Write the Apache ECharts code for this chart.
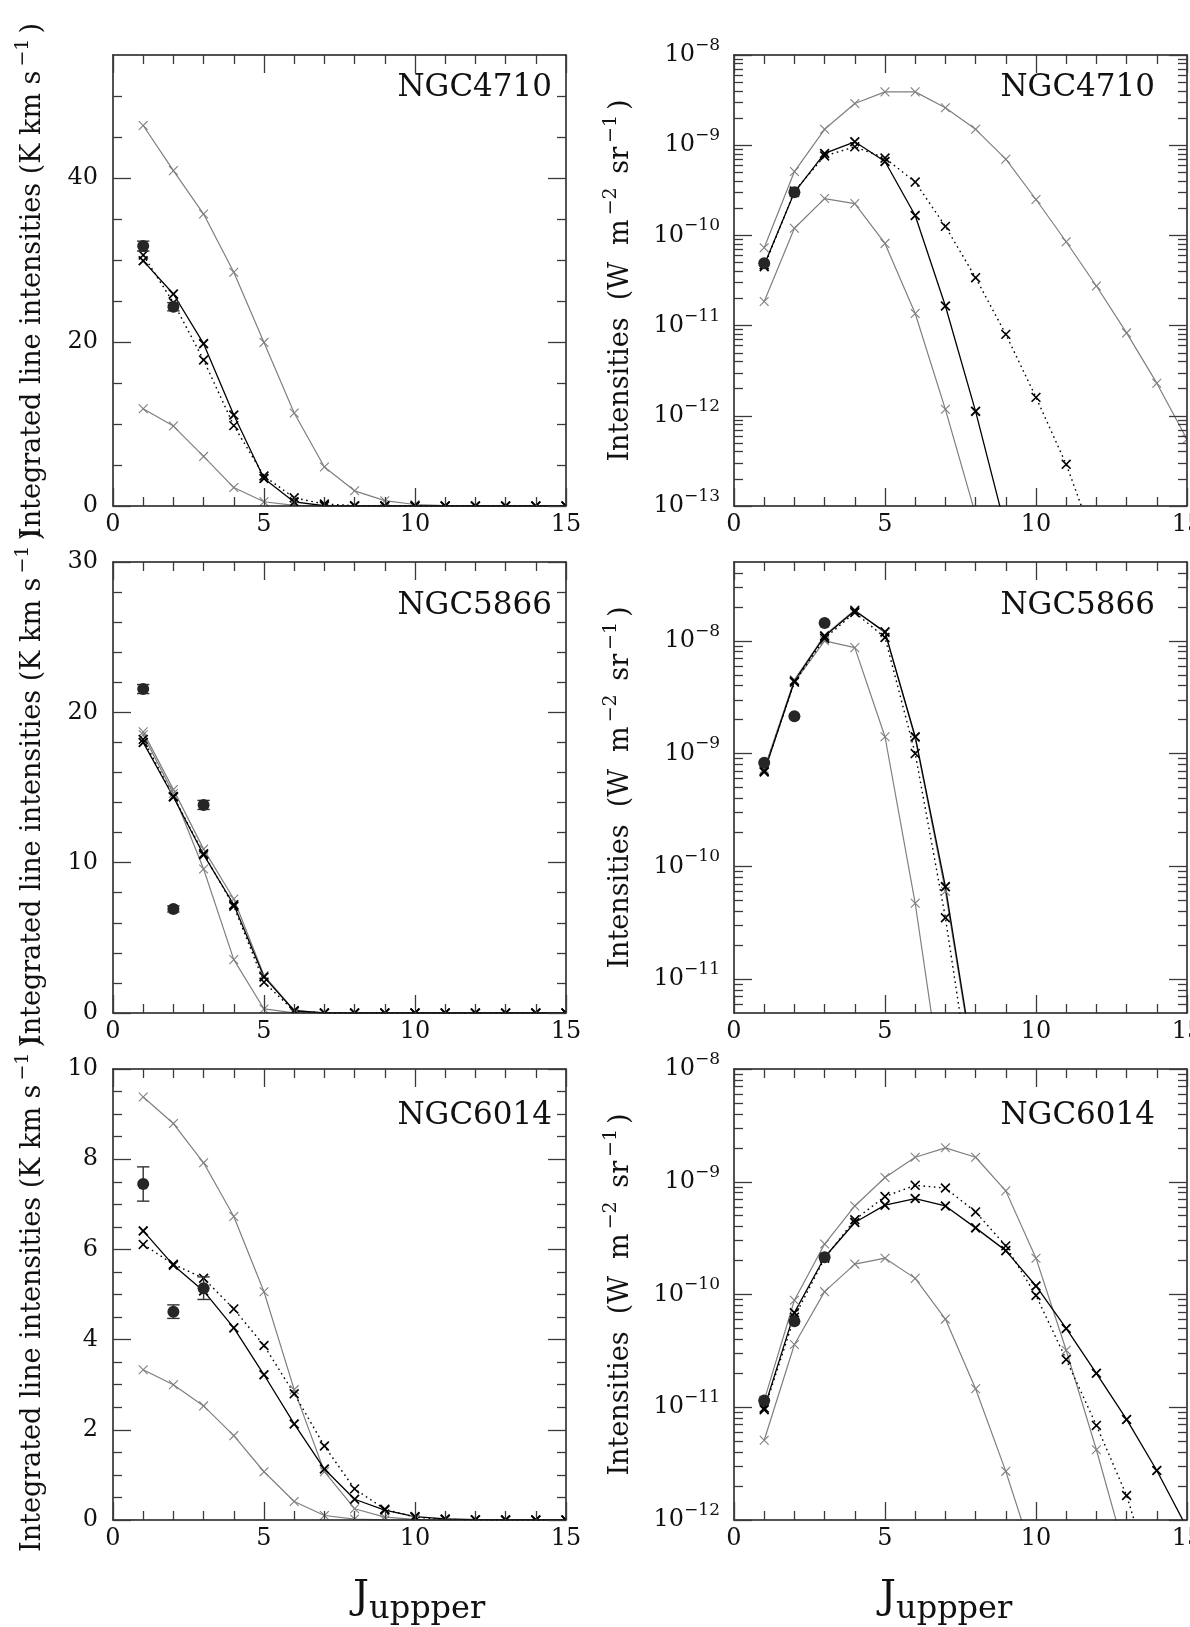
<!DOCTYPE html>
<html>
<head>
<meta charset="utf-8">
<title>CO line SLEDs</title>
<script src="https://cdn.jsdelivr.net/npm/echarts@6.0.0/dist/echarts.min.js"></script>
<style>
html,body{margin:0;padding:0;background:#ffffff;}
#chart{width:1190px;height:1627px;}
</style>
</head>
<body>
<div id="chart"></div>
<script>
// ================= DATA =================
const J = [1,2,3,4,5,6,7,8,9,10,11,12,13,14,15];
const xMajorTicks = [0,5,10,15];
const xMinorTicks = [1,2,3,4,6,7,8,9,11,12,13,14];
const xTickLabels = [0,5,10,15];

// ---- NGC4710, integrated line intensities (K km s-1)
const ngc4710K_obsJ   = [1,2];
const ngc4710K_obs    = [31.7, 24.3];
const ngc4710K_obsErr = [0.6, 0.5];
const ngc4710K_greyHi = [46.4, 40.9, 35.6, 28.5, 19.95, 11.35, 4.75, 1.85, 0.65, 0.18, 0.045, 0.012, 0.003, 0.0007, 0.0001];
const ngc4710K_greyLo = [11.85, 9.75, 6.05, 2.25, 0.52, 0.07, 0.004, 0.0002, 0, 0, 0, 0, 0, 0, 0];
const ngc4710K_solid  = [29.9, 25.85, 19.8, 11.1, 3.35, 0.5, 0.03, 0.001, 0, 0, 0, 0, 0, 0, 0];
const ngc4710K_dotted = [30.6, 24.8, 17.8, 9.8, 3.66, 1.0, 0.24, 0.043, 0.007, 0.0011, 0.0002, 0, 0, 0, 0];
const ngc4710K_yMajor  = [0,20,40];
const ngc4710K_yMinor  = [5,10,15,25,30,35,45,50];
const ngc4710K_yLabels = [0,20,40];

// ---- NGC4710, intensities (W m-2 sr-1)
const ngc4710W_obsJ   = [1,2];
const ngc4710W_obs    = [4.9e-11, 3.0e-10];
const ngc4710W_greyHi = [7.3e-11, 5.1e-10, 1.5e-9, 2.9e-9, 3.9e-9, 3.9e-9, 2.6e-9, 1.5e-9, 7.0e-10, 2.5e-10, 8.5e-11, 2.75e-11, 8.3e-12, 2.3e-12, 5.5e-13];
const ngc4710W_greyLo = [1.85e-11, 1.2e-10, 2.56e-10, 2.25e-10, 8.15e-11, 1.36e-11, 1.18e-12, 8e-14, null, null, null, null, null, null, null];
const ngc4710W_solid  = [4.7e-11, 3.0e-10, 8.1e-10, 1.09e-9, 6.6e-10, 1.66e-10, 1.65e-11, 1.12e-12, 5.5e-14, null, null, null, null, null, null];
const ngc4710W_dotted = [4.5e-11, 3.1e-10, 7.6e-10, 9.6e-10, 7.2e-10, 3.9e-10, 1.26e-10, 3.4e-11, 8.0e-12, 1.6e-12, 2.9e-13, 3.5e-14, null, null, null];
const ngc4710W_decades = [-13,-12,-11,-10,-9,-8];

// ---- NGC5866, integrated line intensities (K km s-1)
const ngc5866K_obsJ   = [1,2,3];
const ngc5866K_obs    = [21.55, 6.92, 13.84];
const ngc5866K_obsErr = [0.3, 0.2, 0.3];
const ngc5866K_greyHi = [18.7, 14.86, 10.9, 7.58, 2.5, 0.17, 0.004, 0, 0, 0, 0, 0, 0, 0, 0];
const ngc5866K_greyLo = [18.5, 14.6, 9.58, 3.55, 0.27, 0.005, 0, 0, 0, 0, 0, 0, 0, 0, 0];
const ngc5866K_solid  = [18.0, 14.37, 10.53, 7.2, 2.4, 0.15, 0.005, 0, 0, 0, 0, 0, 0, 0, 0];
const ngc5866K_dotted = [18.2, 14.4, 10.6, 7.1, 2.05, 0.12, 0.0025, 0, 0, 0, 0, 0, 0, 0, 0];
const ngc5866K_yMajor  = [0,10,20,30];
const ngc5866K_yMinor  = [2,4,6,8,12,14,16,18,22,24,26,28];
const ngc5866K_yLabels = [0,10,20,30];

// ---- NGC5866, intensities (W m-2 sr-1)
const ngc5866W_obsJ   = [1,2,3];
const ngc5866W_obs    = [8.3e-10, 2.14e-9, 1.44e-8];
const ngc5866W_greyHi = [7.3e-10, 4.5e-9, 1.12e-8, 1.88e-8, 1.18e-8, 1.38e-9, 6.0e-11, 1.3e-12, null, null, null, null, null, null, null];
const ngc5866W_greyLo = [7.1e-10, 4.3e-9, 1.0e-8, 8.7e-9, 1.41e-9, 4.7e-11, 7e-13, null, null, null, null, null, null, null, null];
const ngc5866W_solid  = [6.85e-10, 4.4e-9, 1.1e-8, 1.85e-8, 1.2e-8, 1.41e-9, 6.6e-11, 1.4e-12, null, null, null, null, null, null, null];
const ngc5866W_dotted = [7.0e-10, 4.3e-9, 1.05e-8, 1.78e-8, 1.07e-8, 1.0e-9, 3.5e-11, 6e-13, null, null, null, null, null, null, null];
const ngc5866W_decades = [-11,-10,-9,-8];

// ---- NGC6014, integrated line intensities (K km s-1)
const ngc6014K_obsJ   = [1,2,3];
const ngc6014K_obs    = [7.45, 4.62, 5.14];
const ngc6014K_obsErr = [0.38, 0.15, 0.25];
const ngc6014K_greyHi = [9.38, 8.79, 7.92, 6.73, 5.06, 2.89, 1.07, 0.25, 0.065, 0.013, 0.002, 0.0003, 0, 0, 0];
const ngc6014K_greyLo = [3.33, 3.0, 2.53, 1.87, 1.07, 0.41, 0.1, 0.02, 0.0025, 0.0002, 0, 0, 0, 0, 0];
const ngc6014K_solid  = [6.41, 5.65, 5.08, 4.26, 3.22, 2.13, 1.13, 0.46, 0.22, 0.075, 0.024, 0.0074, 0.0023, 0.0006, 0.00015];
const ngc6014K_dotted = [6.11, 5.67, 5.36, 4.68, 3.87, 2.8, 1.64, 0.69, 0.24, 0.063, 0.013, 0.0026, 0.0005, 0.0001, 0];
const ngc6014K_yMajor  = [0,2,4,6,8,10];
const ngc6014K_yMinor  = [0.5,1,1.5,2.5,3,3.5,4.5,5,5.5,6.5,7,7.5,8.5,9,9.5];
const ngc6014K_yLabels = [0,2,4,6,8,10];

// ---- NGC6014, intensities (W m-2 sr-1)
const ngc6014W_obsJ   = [1,2,3];
const ngc6014W_obs    = [1.15e-11, 5.8e-11, 2.14e-10];
const ngc6014W_greyHi = [1.15e-11, 8.9e-11, 2.8e-10, 6.1e-10, 1.09e-9, 1.65e-9, 2.0e-9, 1.65e-9, 8.3e-10, 2.1e-10, 3.2e-11, 4.2e-12, 4.6e-13, null, null];
const ngc6014W_greyLo = [5.1e-12, 3.6e-11, 1.06e-10, 1.86e-10, 2.1e-10, 1.39e-10, 6.05e-11, 1.46e-11, 2.7e-12, 4e-13, null, null, null, null, null];
const ngc6014W_solid  = [9.8e-12, 6.9e-11, 2.14e-10, 4.35e-10, 6.2e-10, 7.1e-10, 6.1e-10, 3.9e-10, 2.45e-10, 1.19e-10, 5.0e-11, 2.0e-11, 7.8e-12, 2.75e-12, 8.5e-13];
const ngc6014W_dotted = [9.5e-12, 6.3e-11, 2.1e-10, 4.6e-10, 7.4e-10, 9.3e-10, 8.8e-10, 5.4e-10, 2.7e-10, 9.8e-11, 2.65e-11, 6.9e-12, 1.65e-12, 2.2e-13, null];
const ngc6014W_decades = [-12,-11,-10,-9,-8];

const logMinorMantissas = [2,3,4,5,6,7,8,9];

// ================= PANEL TABLE =================
const panels = [
  {name:'NGC4710', log:false, yMin:0, yMax:55, yMajor:ngc4710K_yMajor, yMinor:ngc4710K_yMinor, yLabels:ngc4710K_yLabels,
   obsJ:ngc4710K_obsJ, obs:ngc4710K_obs, err:ngc4710K_obsErr, greyHi:ngc4710K_greyHi, greyLo:ngc4710K_greyLo, solid:ngc4710K_solid, dotted:ngc4710K_dotted},
  {name:'NGC4710', log:true, yMin:1e-13, yMax:1e-8, decades:ngc4710W_decades,
   obsJ:ngc4710W_obsJ, obs:ngc4710W_obs, err:null, greyHi:ngc4710W_greyHi, greyLo:ngc4710W_greyLo, solid:ngc4710W_solid, dotted:ngc4710W_dotted},
  {name:'NGC5866', log:false, yMin:0, yMax:30, yMajor:ngc5866K_yMajor, yMinor:ngc5866K_yMinor, yLabels:ngc5866K_yLabels,
   obsJ:ngc5866K_obsJ, obs:ngc5866K_obs, err:ngc5866K_obsErr, greyHi:ngc5866K_greyHi, greyLo:ngc5866K_greyLo, solid:ngc5866K_solid, dotted:ngc5866K_dotted},
  {name:'NGC5866', log:true, yMin:5e-12, yMax:5e-8, decades:ngc5866W_decades,
   obsJ:ngc5866W_obsJ, obs:ngc5866W_obs, err:null, greyHi:ngc5866W_greyHi, greyLo:ngc5866W_greyLo, solid:ngc5866W_solid, dotted:ngc5866W_dotted},
  {name:'NGC6014', log:false, yMin:0, yMax:10, yMajor:ngc6014K_yMajor, yMinor:ngc6014K_yMinor, yLabels:ngc6014K_yLabels,
   obsJ:ngc6014K_obsJ, obs:ngc6014K_obs, err:ngc6014K_obsErr, greyHi:ngc6014K_greyHi, greyLo:ngc6014K_greyLo, solid:ngc6014K_solid, dotted:ngc6014K_dotted},
  {name:'NGC6014', log:true, yMin:1e-12, yMax:1e-8, decades:ngc6014W_decades,
   obsJ:ngc6014W_obsJ, obs:ngc6014W_obs, err:null, greyHi:ngc6014W_greyHi, greyLo:ngc6014W_greyLo, solid:ngc6014W_solid, dotted:ngc6014W_dotted}
];

// ================= LAYOUT / STYLE =================
const FONT = 'DejaVu Serif';
const GRID_W = 453, GRID_H = 451;
const colLeft = [113, 734];
const rowTop = [55, 562, 1069];
const titleRight = [552, 1155];
const titleDy = [33, 44, 47];
const yNameX = [33, 621];
const xNameLeft = [353, 880];
const FRAME = '#1a1a1a';
const TICK = '#3a3a3a';
const GREY = '#7f7f7f';
const BLACK = '#000000';
const TEXT = '#111111';
const MAJOR_LEN = 18, MINOR_LEN = 9;

function pairs(arr) {
  const out = [];
  arr.forEach((v, i) => { if (v !== null && v !== undefined) out.push([J[i], v]); });
  return out;
}

function crossRender(color, half, width) {
  return function (params, api) {
    const p = api.coord([api.value(0), api.value(1)]);
    return {
      type: 'group',
      children: [
        {type:'line', shape:{x1:p[0]-half, y1:p[1]-half, x2:p[0]+half, y2:p[1]+half}, style:{stroke:color, lineWidth:width}},
        {type:'line', shape:{x1:p[0]-half, y1:p[1]+half, x2:p[0]+half, y2:p[1]-half}, style:{stroke:color, lineWidth:width}}
      ]
    };
  };
}

function obsRender(params, api) {
  const j = api.value(0), v = api.value(1), e = api.value(2);
  const c = api.coord([j, v]);
  const children = [];
  if (e > 0) {
    const t = api.coord([j, v + e]);
    const b = api.coord([j, v - e]);
    const cap = 6.2;
    const st = {stroke:'#333333', lineWidth:1.4};
    children.push({type:'line', shape:{x1:c[0], y1:t[1], x2:c[0], y2:b[1]}, style:st});
    children.push({type:'line', shape:{x1:c[0]-cap, y1:t[1], x2:c[0]+cap, y2:t[1]}, style:st});
    children.push({type:'line', shape:{x1:c[0]-cap, y1:b[1], x2:c[0]+cap, y2:b[1]}, style:st});
  }
  children.push({type:'circle', shape:{cx:c[0], cy:c[1], r:6}, style:{fill:'#262626'}});
  return {type:'group', children};
}

const supRich = {
  b: {fontFamily: FONT, fontSize: 24, lineHeight: 36, color: TEXT},
  s: {fontFamily: FONT, fontSize: 17, lineHeight: 17, verticalAlign: 'top', color: TEXT}
};

function decoAxis(gridIndex, position, min, max, ticks, len, showLine, labels, fmt, margin) {
  const ax = {
    gridIndex, type: 'value', position, min, max,
    splitLine: {show:false}, splitArea: {show:false}, minorTick: {show:false},
    axisLine: {show: showLine, onZero: false, lineStyle: {color: FRAME, width: 1.5}},
    axisTick: {show: true, inside: true, length: len, customValues: ticks, lineStyle: {color: TICK, width: 1.3}},
    axisLabel: {show: false},
    z: 10
  };
  if (labels) {
    ax.axisLabel = {
      show: true, customValues: labels, margin: margin, color: TEXT,
      fontFamily: FONT, fontSize: 24, formatter: fmt, rich: supRich, hideOverlap: false
    };
  }
  return ax;
}

const nameRich = {
  n: {fontFamily: FONT, fontSize: 27, lineHeight: 38, fill: TEXT},
  s: {fontFamily: FONT, fontSize: 19, lineHeight: 19, verticalAlign: 'top', fill: TEXT, padding: [0, 5, 0, 4]}
};

const xAxes = [], yAxes = [], grids = [], series = [], graphics = [];

panels.forEach((p, i) => {
  const col = i % 2, row = Math.floor(i / 2);
  const left = colLeft[col], top = rowTop[row];
  grids.push({left: left, top: top, width: GRID_W, height: GRID_H, containLabel: false, outerBoundsMode: 'none', show: false});

  // x axes: data axis + decorations
  xAxes.push({gridIndex: i, type: 'value', min: 0, max: 15, show: false});
  xAxes.push(decoAxis(i, 'bottom', 0, 15, xMajorTicks, MAJOR_LEN, true, xTickLabels, v => String(v), 7));
  xAxes.push(decoAxis(i, 'bottom', 0, 15, xMinorTicks, MINOR_LEN, false));
  xAxes.push(decoAxis(i, 'top', 0, 15, xMajorTicks, MAJOR_LEN, true));
  xAxes.push(decoAxis(i, 'top', 0, 15, xMinorTicks, MINOR_LEN, false));

  // y axes
  if (p.log) {
    yAxes.push({gridIndex: i, type: 'log', logBase: 10, min: p.yMin, max: p.yMax, show: false});
    const lo = Math.log10(p.yMin), hi = Math.log10(p.yMax);
    const major = p.decades;
    const minor = [];
    for (let n = Math.floor(lo); n < Math.ceil(hi); n++) {
      logMinorMantissas.forEach(k => {
        const lv = Math.log10(k * Math.pow(10, n));
        if (lv > lo + 1e-6 && lv < hi - 1e-6) minor.push(lv);
      });
    }
    const fmt = v => '{b|10}{s|\u2212' + Math.round(-v) + '}';
    yAxes.push(decoAxis(i, 'left', lo, hi, major, MAJOR_LEN, true, major, fmt, 14));
    yAxes.push(decoAxis(i, 'left', lo, hi, minor, MINOR_LEN, false));
    yAxes.push(decoAxis(i, 'right', lo, hi, major, MAJOR_LEN, true));
    yAxes.push(decoAxis(i, 'right', lo, hi, minor, MINOR_LEN, false));
  } else {
    yAxes.push({gridIndex: i, type: 'value', min: p.yMin, max: p.yMax, show: false});
    yAxes.push(decoAxis(i, 'left', p.yMin, p.yMax, p.yMajor, MAJOR_LEN, true, p.yLabels, v => String(v), 15));
    yAxes.push(decoAxis(i, 'left', p.yMin, p.yMax, p.yMinor, MINOR_LEN, false));
    yAxes.push(decoAxis(i, 'right', p.yMin, p.yMax, p.yMajor, MAJOR_LEN, true));
    yAxes.push(decoAxis(i, 'right', p.yMin, p.yMax, p.yMinor, MINOR_LEN, false));
  }

  const xi = i * 5, yi = i * 5;
  const lineCommon = {type: 'line', xAxisIndex: xi, yAxisIndex: yi, showSymbol: false, symbol: 'none', clip: true, silent: true, animation: false};
  series.push(Object.assign({}, lineCommon, {name: p.name + ' model high', data: pairs(p.greyHi), lineStyle: {color: GREY, width: 1.2}, z: 2}));
  series.push(Object.assign({}, lineCommon, {name: p.name + ' model low', data: pairs(p.greyLo), lineStyle: {color: GREY, width: 1.2}, z: 2}));
  series.push(Object.assign({}, lineCommon, {name: p.name + ' best fit', data: pairs(p.solid), lineStyle: {color: BLACK, width: 1.3}, z: 3}));
  series.push(Object.assign({}, lineCommon, {name: p.name + ' alt fit', data: pairs(p.dotted), lineStyle: {color: BLACK, width: 1.4, type: [1.6, 3.6]}, z: 3}));

  const custCommon = {type: 'custom', xAxisIndex: xi, yAxisIndex: yi, clip: true, silent: true, animation: false, encode: {x: 0, y: 1}};
  series.push(Object.assign({}, custCommon, {data: pairs(p.greyHi), renderItem: crossRender(GREY, 4.4, 1.1), z: 4}));
  series.push(Object.assign({}, custCommon, {data: pairs(p.greyLo), renderItem: crossRender(GREY, 4.4, 1.1), z: 4}));
  series.push(Object.assign({}, custCommon, {data: pairs(p.solid), renderItem: crossRender(BLACK, 4.4, 1.8), z: 5}));
  series.push(Object.assign({}, custCommon, {data: pairs(p.dotted), renderItem: crossRender(BLACK, 4.4, 1.6), z: 5}));

  const obsData = p.obsJ.map((j, k) => [j, p.obs[k], p.err ? p.err[k] : 0]);
  series.push({type: 'custom', xAxisIndex: xi, yAxisIndex: yi, clip: false, silent: true, animation: false,
    encode: {x: 0, y: 1}, data: obsData, renderItem: obsRender, z: 6});

  // panel title
  graphics.push({type: 'text', x: titleRight[col], y: top + titleDy[row], z: 20,
    style: {text: p.name, fill: TEXT, fontFamily: FONT, fontSize: 31, align: 'right', verticalAlign: 'middle'}});

  // y-axis titles
  const yc = top + GRID_H / 2;
  const yText = col === 0
    ? '{n|Integrated line intensities (K km s}{s|\u22121}{n|)}'
    : '{n|Intensities  (W  m}{s|\u22122}{n| sr}{s|\u22121}{n|)}';
  graphics.push({type: 'text', x: yNameX[col], y: yc, rotation: Math.PI / 2, z: 20,
    style: {text: yText, align: 'center', verticalAlign: 'middle', rich: nameRich}});

  // x-axis titles (bottom row only)
  if (row === 2) {
    graphics.push({type: 'text', x: xNameLeft[col], y: 1598, z: 20,
      style: {text: '{j|J}{u|uppper}', align: 'left', verticalAlign: 'middle',
        rich: {j: {fontFamily: FONT, fontSize: 40, lineHeight: 56, fill: TEXT}, u: {fontFamily: FONT, fontSize: 32, lineHeight: 32, verticalAlign: 'bottom', fill: TEXT}}}});
  }
});

const chart = echarts.init(document.getElementById('chart'), null, {renderer: 'canvas'});
chart.setOption({
  animation: false,
  backgroundColor: '#ffffff',
  textStyle: {fontFamily: FONT},
  grid: grids,
  xAxis: xAxes,
  yAxis: yAxes,
  series: series,
  graphic: graphics
});
</script>
</body>
</html>
